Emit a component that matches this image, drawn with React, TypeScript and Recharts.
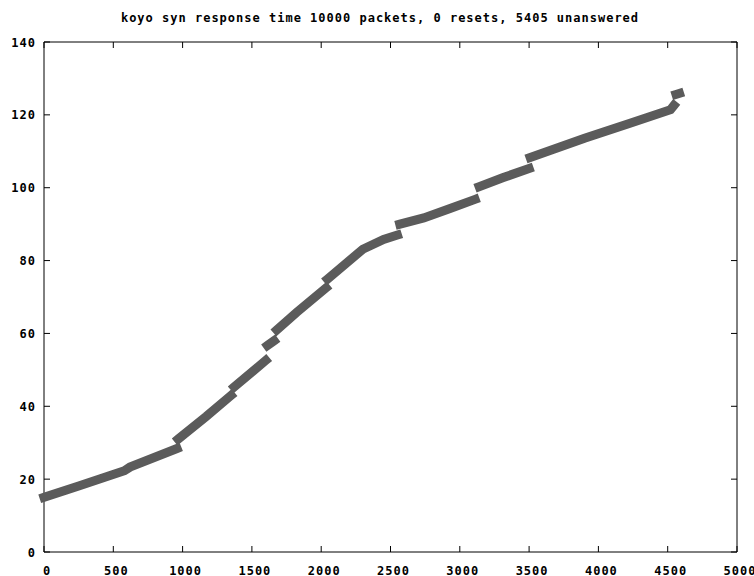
import React from 'react';
import { LineChart, Line, XAxis, YAxis, ReferenceArea } from 'recharts';

const TITLE = 'koyo syn response time 10000 packets, 0 resets, 5405 unanswered';

const xTicks = [0, 500, 1000, 1500, 2000, 2500, 3000, 3500, 4000, 4500, 5000];
const yTicks = [0, 20, 40, 60, 80, 100, 120, 140];

// packet number (x) and response time (y); null y = gap between runs
const packetNumber = [
  0, 250, 580, 620, 960, 964,
  968, 1170, 1350, 1360,
  1372, 1600, 1606,
  1612, 1660, 1670,
  1680, 1823, 2035, 2040,
  2045, 2300, 2450, 2550, 2558,
  2567, 2740, 2930, 3110, 3125,
  3140, 3314, 3500, 3504,
  3508, 3900, 4228, 4520, 4545, 4552,
  4560, 4585,
];
const responseTime = [
  15.0, 18.1, 22.3, 23.3, 28.4, null,
  31.0, 37.2, 43.0, null,
  45.3, 52.6, null,
  56.7, 58.0, null,
  61.0, 65.8, 72.5, null,
  74.9, 83.1, 85.8, 87.0, null,
  90.0, 91.7, 94.3, 96.8, null,
  100.3, 102.8, 105.3, null,
  108.3, 113.6, 117.7, 121.4, 122.6, null,
  125.6, 125.9,
];

const data = packetNumber.map((x, i) => ({ x, y: responseTime[i] }));

const W = 754;
const H = 576;
const PLOT_L = 44;
const PLOT_R = 737;
const PLOT_T = 42;
const PLOT_B = 552;
const TICK = 6;
const FONT = '"DejaVu Sans Mono", "Liberation Mono", monospace';
const textStyle: React.CSSProperties = { letterSpacing: '1px' };

const XTick = (props: any) => {
  const { x, payload } = props;
  return (
    <g>
      <line x1={x} y1={PLOT_B} x2={x} y2={PLOT_B - TICK} stroke="#000" strokeWidth={1} />
      <line x1={x} y1={PLOT_T} x2={x} y2={PLOT_T + TICK} stroke="#000" strokeWidth={1} />
      <text
        x={x + 3}
        y={574.5}
        textAnchor="middle"
        fontFamily={FONT}
        fontWeight="bold"
        fontSize={12}
        fill="#000"
        style={textStyle}
      >
        {payload.value}
      </text>
    </g>
  );
};

const YTick = (props: any) => {
  const { y, payload } = props;
  return (
    <g>
      <line x1={PLOT_L} y1={y} x2={PLOT_L + TICK} y2={y} stroke="#000" strokeWidth={1} />
      <line x1={PLOT_R} y1={y} x2={PLOT_R - TICK} y2={y} stroke="#000" strokeWidth={1} />
      <text
        x={36}
        y={y + 4.5}
        textAnchor="end"
        fontFamily={FONT}
        fontWeight="bold"
        fontSize={12}
        fill="#000"
        style={textStyle}
      >
        {payload.value}
      </text>
    </g>
  );
};

export default function App() {
  return (
    <div style={{ position: 'absolute', left: 0, top: 0, width: W, height: H, background: '#fff' }}>
      <LineChart
        width={W}
        height={H}
        data={data}
        margin={{ top: PLOT_T, right: W - PLOT_R, left: 0, bottom: 0 }}
      >
        <XAxis
          dataKey="x"
          type="number"
          domain={[0, 5000]}
          ticks={xTicks}
          interval={0}
          height={H - PLOT_B}
          axisLine={false}
          tickLine={false}
          tick={<XTick />}
        />
        <YAxis
          type="number"
          domain={[0, 140]}
          ticks={yTicks}
          interval={0}
          width={PLOT_L}
          axisLine={false}
          tickLine={false}
          tick={<YTick />}
        />
        <ReferenceArea
          x1={0}
          x2={5000}
          y1={0}
          y2={140}
          fill="none"
          fillOpacity={0}
          stroke="#000"
          strokeWidth={1}
          strokeOpacity={1}
        />
        <Line
          dataKey="y"
          type="linear"
          stroke="#5b5b5b"
          strokeWidth={9}
          strokeLinecap="square"
          strokeLinejoin="miter"
          dot={false}
          activeDot={false}
          connectNulls={false}
          isAnimationActive={false}
        />
      </LineChart>
      <svg
        width={W}
        height={30}
        style={{ position: 'absolute', left: 0, top: 0, pointerEvents: 'none' }}
      >
        <text
          x={380}
          y={22}
          textAnchor="middle"
          fontFamily={FONT}
          fontWeight="bold"
          fontSize={12}
          fill="#000"
          style={textStyle}
        >
          {TITLE}
        </text>
      </svg>
    </div>
  );
}
